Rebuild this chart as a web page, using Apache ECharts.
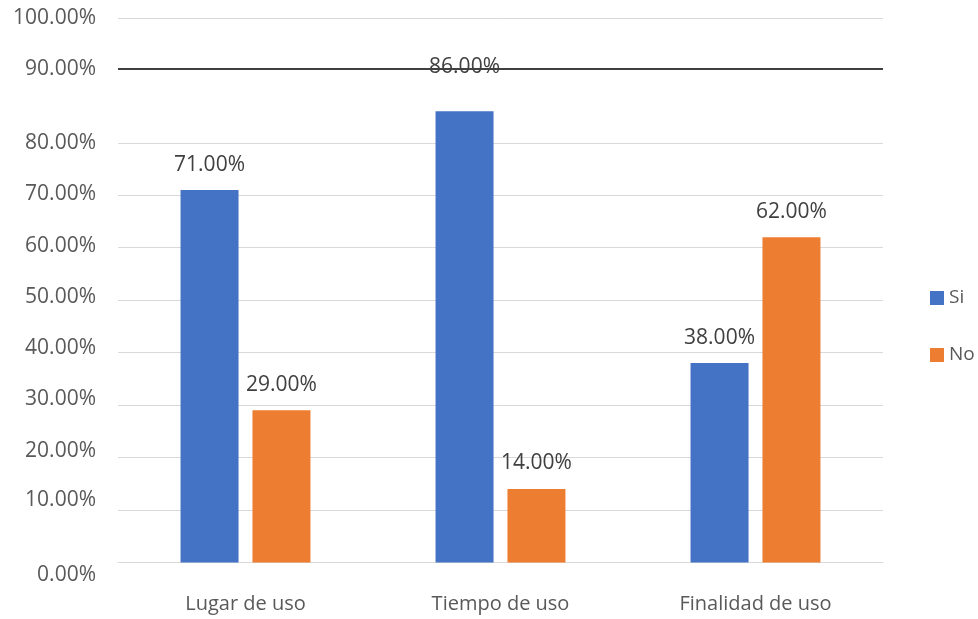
<!DOCTYPE html>
<html>
<head>
<meta charset="utf-8">
<script src="https://cdn.jsdelivr.net/npm/echarts@6/dist/echarts.min.js"></script>
<style>
  html, body { margin: 0; padding: 0; background: #fff; }
  #chart { width: 978px; height: 619px; }
</style>
</head>
<body>
<div id="chart"></div>
<script>
// 数据
const categories = ['Lugar de uso', 'Tiempo de uso', 'Finalidad de uso'];
const siValues = [71, 86, 38];
const noValues = [29, 14, 62];

// 纵轴刻度（原图刻度不均匀，按图上位置读取）
const yTickLabels = ['0.00%', '10.00%', '20.00%', '30.00%', '40.00%', '50.00%',
                     '60.00%', '70.00%', '80.00%', '90.00%', '100.00%'];
const yLabelAt = [-2.4, 11.9, 21.3, 31.2, 40.9, 50.6, 60.4, 70.3, 80, 94.1, 103.8];
const yGridAt = [0, 10, 20, 30, 40, 50, 60, 70, 80, 103.8];
const darkLineAt = 94.1;

const FONT = '"Open Sans", "Liberation Sans", sans-serif';

function pct(v) {
    return v.toFixed(2) + '%';
}

const chart = echarts.init(document.getElementById('chart'));

const option = {
    animation: false,
    color: ['#4472C4', '#ED7D31'],
    textStyle: { fontFamily: FONT },
    grid: {
        left: 118,
        right: 95,
        top: 18,
        bottom: 44,
        containLabel: false,
        outerBoundsMode: 'none'
    },
    legend: {
        orient: 'vertical',
        left: 925,
        top: 283,
        icon: 'rect',
        itemWidth: 14,
        itemHeight: 14,
        itemGap: 37,
        data: ['Si', 'No'],
        textStyle: { color: '#595959', fontSize: 19, lineHeight: 20, fontFamily: FONT }
    },
    xAxis: {
        type: 'category',
        data: categories,
        axisLine: { show: true, onZero: true, lineStyle: { color: '#d9d9d9', width: 1 } },
        axisTick: { show: false },
        axisLabel: { color: '#595959', fontSize: 20, margin: 19, fontFamily: FONT },
        splitLine: { show: false }
    },
    yAxis: {
        type: 'value',
        min: -2.4,
        max: 103.8,
        axisLine: { show: false },
        axisTick: { show: false, customValues: yGridAt },
        splitLine: {
            show: true,
            customValues: yGridAt,
            lineStyle: { color: '#d9d9d9', width: 1 }
        },
        axisLabel: {
            customValues: yLabelAt,
            color: '#595959',
            fontSize: 21,
            margin: 22,
            fontFamily: FONT,
            formatter: (value) => {
                let best = 0;
                yLabelAt.forEach((v, i) => {
                    if (Math.abs(v - value) < Math.abs(yLabelAt[best] - value)) best = i;
                });
                return yTickLabels[best];
            }
        }
    },
    series: [
        {
            name: 'Si',
            type: 'bar',
            barWidth: 58,
            barGap: '24%',
            data: siValues.map((v, i) => i === 1 ? { value: v, label: { distance: 34 } } : v),
            label: {
                show: true,
                position: 'top',
                distance: 15,
                color: '#404040',
                fontSize: 21,
                fontFamily: FONT,
                formatter: (p) => pct(p.value)
            },
            markLine: {
                silent: true,
                symbol: 'none',
                label: { show: false },
                lineStyle: { color: '#404040', width: 2, type: 'solid' },
                data: [{ yAxis: darkLineAt }]
            }
        },
        {
            name: 'No',
            type: 'bar',
            barWidth: 58,
            data: noValues,
            label: {
                show: true,
                position: 'top',
                distance: 15,
                color: '#404040',
                fontSize: 21,
                fontFamily: FONT,
                formatter: (p) => pct(p.value)
            }
        }
    ]
};

chart.setOption(option);
</script>
</body>
</html>
